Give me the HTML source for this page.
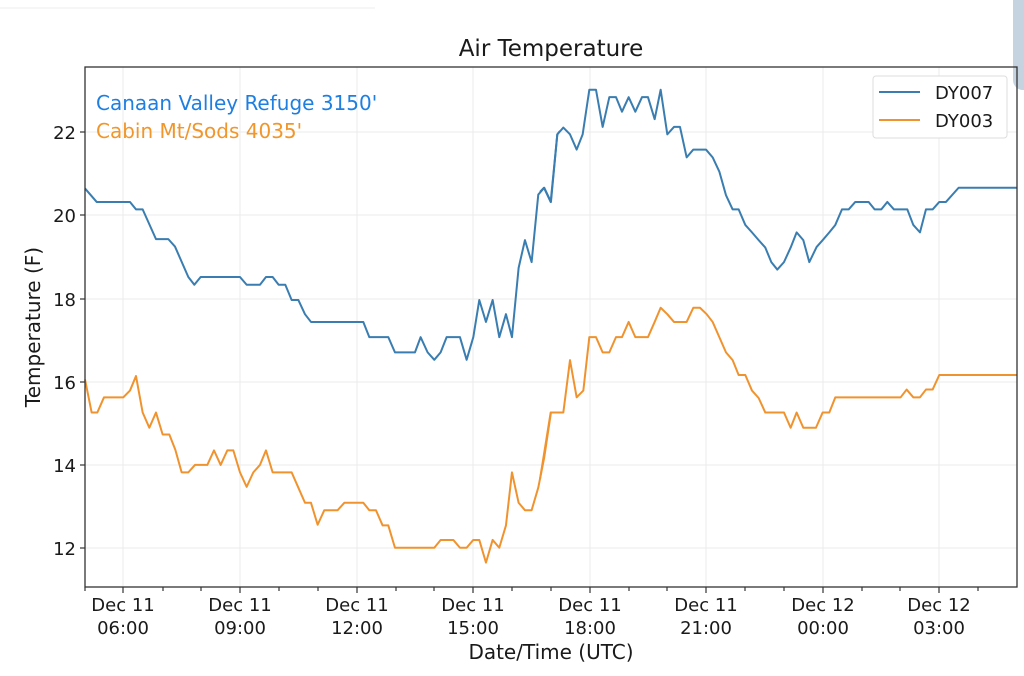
<!DOCTYPE html>
<html><head><meta charset="utf-8"><style>
html,body{margin:0;padding:0;background:#fff;}
svg{display:block;}
text{font-family:"DejaVu Sans","Liberation Sans",sans-serif;fill:#1a1a1a;}
</style></head><body>
<svg width="1024" height="676" viewBox="0 0 1024 676" xmlns="http://www.w3.org/2000/svg">
<rect width="1024" height="676" fill="#fff"/>
<line x1="0" y1="8" x2="375" y2="8" stroke="#eee" stroke-width="1"/>
<rect x="1013" y="-10" width="30" height="100" rx="10" fill="#c5d3e0"/>
<g stroke="#ebebeb" stroke-width="1">
<line x1="85" y1="132" x2="1017" y2="132"/><line x1="85" y1="215" x2="1017" y2="215"/>
<line x1="85" y1="299" x2="1017" y2="299"/><line x1="85" y1="382" x2="1017" y2="382"/>
<line x1="85" y1="465" x2="1017" y2="465"/><line x1="85" y1="548" x2="1017" y2="548"/>
<line x1="123" y1="67" x2="123" y2="587"/><line x1="240" y1="67" x2="240" y2="587"/>
<line x1="357" y1="67" x2="357" y2="587"/><line x1="473" y1="67" x2="473" y2="587"/>
<line x1="590" y1="67" x2="590" y2="587"/><line x1="706" y1="67" x2="706" y2="587"/>
<line x1="823" y1="67" x2="823" y2="587"/><line x1="939" y1="67" x2="939" y2="587"/>
</g>
<g fill="none" stroke-width="2" stroke-linejoin="round">
<g transform="translate(80,60) scale(0.3333,0.338)">
<polyline vector-effect="non-scaling-stroke" stroke="#3a7db0" points="15,380 50,420 150,420 168,442 188,442 228,530 265,530 285,552 325,642 343,665 362,642 480,642 500,665 540,665 558,642 578,642 596,665 616,665 635,710 655,710 675,752 693,775 850,775 868,820 925,820 945,865 1005,865 1022,820 1043,865 1063,887 1082,865 1100,820 1140,820 1160,887 1180,820 1198,710 1218,775 1238,710 1258,820 1278,752 1296,820 1316,615 1335,533 1355,598 1375,398 1393,378 1413,420 1432,220 1440,210"/>
<polyline vector-effect="non-scaling-stroke" stroke="#f0932e" points="15,945 35,1043 52,1043 72,998 130,998 150,978 168,935 188,1043 208,1088 228,1043 248,1108 268,1108 286,1153 305,1220 325,1220 345,1198 382,1198 402,1155 422,1198 442,1155 460,1155 480,1220 500,1263 520,1220 540,1198 558,1155 578,1220 635,1220 655,1265 675,1310 693,1310 713,1375 733,1332 773,1332 793,1310 850,1310 868,1332 888,1332 908,1377 925,1377 945,1443 1063,1443 1082,1420 1120,1420 1140,1443 1160,1443 1180,1420 1198,1420 1218,1487 1238,1420 1258,1443 1278,1377 1296,1220 1316,1310 1335,1332 1355,1332 1375,1265 1393,1175 1413,1043 1440,1043"/>
</g>
<g transform="translate(540,60) scale(0.3333,0.338)">
<polyline vector-effect="non-scaling-stroke" stroke="#3a7db0" points="0,390 12,378 32,420 52,220 70,200 90,220 110,265 128,220 148,88 168,88 188,198 208,110 228,110 246,153 266,110 286,153 306,110 324,110 344,175 362,88 382,220 402,198 420,198 440,288 460,265 498,265 518,288 538,330 558,400 578,442 596,442 616,488 636,510 656,533 676,555 694,598 712,620 732,598 752,555 770,510 790,533 808,598 830,553 848,533 868,510 886,488 906,442 926,442 946,420 986,420 1004,442 1024,442 1042,420 1062,442 1102,442 1120,488 1140,510 1158,442 1178,442 1198,420 1218,420 1256,378 1432,378"/>
<polyline vector-effect="non-scaling-stroke" stroke="#f0932e" points="0,1240 32,1043 70,1043 90,888 110,998 130,978 148,820 168,820 188,865 208,865 228,820 246,820 266,775 286,820 324,820 344,775 362,733 382,752 402,775 440,775 460,733 480,733 500,752 518,775 538,820 558,865 578,888 596,932 616,932 636,978 656,1000 676,1043 732,1043 752,1088 770,1043 790,1088 828,1088 848,1043 868,1043 886,998 1082,998 1100,975 1120,998 1140,998 1158,975 1178,975 1198,932 1432,932"/>
</g>
</g>
<rect x="85" y="67" width="932" height="520" fill="none" stroke="#333" stroke-width="1.3"/>
<g stroke="#333" stroke-width="1.2">
<line x1="80" y1="132" x2="85" y2="132"/><line x1="80" y1="215" x2="85" y2="215"/>
<line x1="80" y1="299" x2="85" y2="299"/><line x1="80" y1="382" x2="85" y2="382"/>
<line x1="80" y1="465" x2="85" y2="465"/><line x1="80" y1="548" x2="85" y2="548"/>
<line x1="123" y1="587" x2="123" y2="593"/><line x1="240" y1="587" x2="240" y2="593"/>
<line x1="357" y1="587" x2="357" y2="593"/><line x1="473" y1="587" x2="473" y2="593"/>
<line x1="590" y1="587" x2="590" y2="593"/><line x1="706" y1="587" x2="706" y2="593"/>
<line x1="823" y1="587" x2="823" y2="593"/><line x1="939" y1="587" x2="939" y2="593"/>
<line x1="85" y1="587" x2="85" y2="591"/><line x1="163" y1="587" x2="163" y2="591"/><line x1="201" y1="587" x2="201" y2="591"/>
<line x1="279" y1="587" x2="279" y2="591"/><line x1="318" y1="587" x2="318" y2="591"/>
<line x1="396" y1="587" x2="396" y2="591"/><line x1="434" y1="587" x2="434" y2="591"/>
<line x1="512" y1="587" x2="512" y2="591"/><line x1="551" y1="587" x2="551" y2="591"/>
<line x1="629" y1="587" x2="629" y2="591"/><line x1="667" y1="587" x2="667" y2="591"/>
<line x1="745" y1="587" x2="745" y2="591"/><line x1="784" y1="587" x2="784" y2="591"/>
<line x1="862" y1="587" x2="862" y2="591"/><line x1="900" y1="587" x2="900" y2="591"/>
<line x1="978" y1="587" x2="978" y2="591"/>
</g>
<g font-size="18" text-anchor="end">
<text x="76" y="139">22</text><text x="76" y="222">20</text><text x="76" y="306">18</text>
<text x="76" y="389">16</text><text x="76" y="472">14</text><text x="76" y="555">12</text>
</g>
<g font-size="18" text-anchor="middle">
<text x="123" y="611">Dec 11</text><text x="123" y="634">06:00</text>
<text x="240" y="611">Dec 11</text><text x="240" y="634">09:00</text>
<text x="357" y="611">Dec 11</text><text x="357" y="634">12:00</text>
<text x="473" y="611">Dec 11</text><text x="473" y="634">15:00</text>
<text x="590" y="611">Dec 11</text><text x="590" y="634">18:00</text>
<text x="706" y="611">Dec 11</text><text x="706" y="634">21:00</text>
<text x="823" y="611">Dec 12</text><text x="823" y="634">00:00</text>
<text x="939" y="611">Dec 12</text><text x="939" y="634">03:00</text>
<text x="551" y="659" font-size="20">Date/Time (UTC)</text>
<text x="551" y="56" font-size="23">Air Temperature</text>
</g>
<text transform="translate(40,327) rotate(-90)" font-size="20" text-anchor="middle">Temperature (F)</text>
<text x="96" y="110" font-size="20" style="fill:#1f7fe0">Canaan Valley Refuge 3150'</text>
<text x="96" y="138" font-size="20" style="fill:#f0962a">Cabin Mt/Sods 4035'</text>
<rect x="873" y="76" width="134" height="62" rx="3" fill="#fff" stroke="#ddd"/>
<line x1="879" y1="92" x2="920" y2="92" stroke="#3a7db0" stroke-width="2"/>
<line x1="879" y1="120" x2="920" y2="120" stroke="#f0932e" stroke-width="2"/>
<text x="935" y="99" font-size="18">DY007</text>
<text x="935" y="127" font-size="18">DY003</text>
</svg>
</body></html>
